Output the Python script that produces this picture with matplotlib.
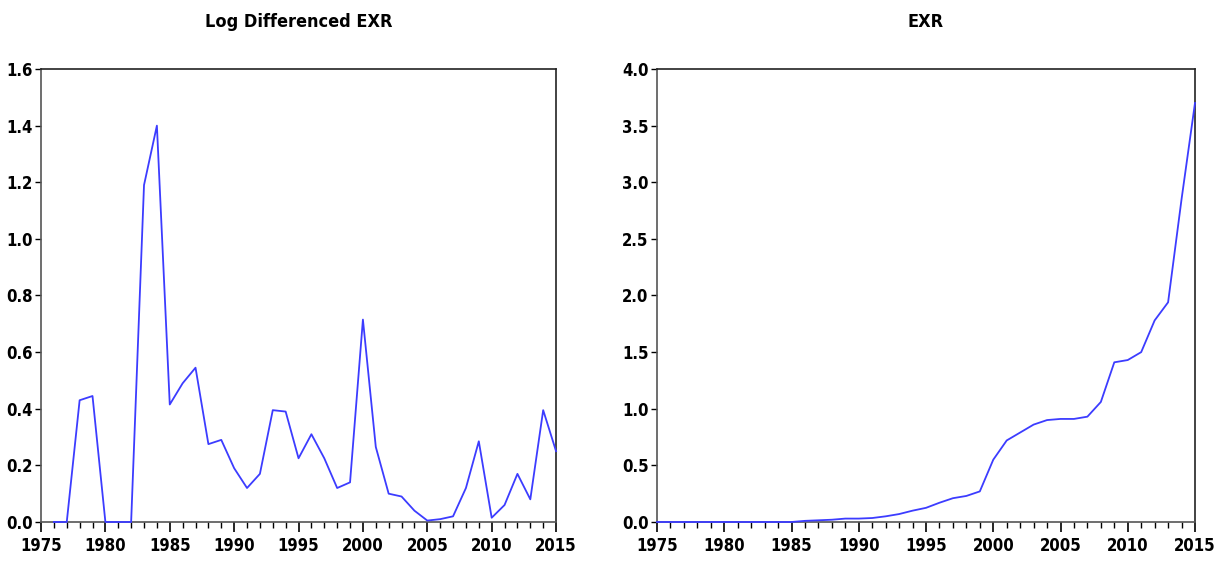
import matplotlib
matplotlib.use("Agg")
import matplotlib.pyplot as plt
from matplotlib.ticker import MultipleLocator, FormatStrFormatter

plt.rcParams['font.family'] = ['DejaVu Sans']
plt.rcParams['font.stretch'] = 'condensed'

# Log differenced EXR, 1976-2015
years_diff = list(range(1976, 2016))
log_diff = [0.0, 0.0, 0.43, 0.445, 0.0, 0.0, 0.0, 1.19, 1.40, 0.415,
            0.49, 0.545, 0.275, 0.29, 0.19, 0.12, 0.17, 0.395, 0.39, 0.225,
            0.31, 0.225, 0.12, 0.14, 0.715, 0.265, 0.10, 0.09, 0.04, 0.005,
            0.01, 0.02, 0.12, 0.285, 0.015, 0.06, 0.17, 0.08, 0.395, 0.25]

# EXR level, 1975-2015
years_exr = list(range(1975, 2016))
exr = [0.0, 0.0, 0.0, 0.0, 0.0, 0.0, 0.0, 0.0, 0.0, 0.0,
       0.0, 0.01, 0.015, 0.02, 0.03, 0.03, 0.035, 0.05, 0.07, 0.10,
       0.125, 0.17, 0.21, 0.23, 0.27, 0.55, 0.72, 0.79, 0.86, 0.90,
       0.91, 0.91, 0.93, 1.06, 1.41, 1.43, 1.50, 1.78, 1.94, 2.85, 3.70]

line_col = '#3c3cff'

fig = plt.figure(figsize=(12.24, 5.62), dpi=100)
ax1 = fig.add_axes([0.0335, 0.0712, 0.4208, 0.806])
ax2 = fig.add_axes([0.5368, 0.0712, 0.4395, 0.806])


def style(ax, ymax, ystep, title):
    ax.set_xlim(1975, 2015)
    ax.set_ylim(0, ymax)
    ax.xaxis.set_major_locator(MultipleLocator(5))
    ax.xaxis.set_minor_locator(MultipleLocator(1))
    ax.yaxis.set_major_locator(MultipleLocator(ystep))
    ax.yaxis.set_major_formatter(FormatStrFormatter('%.1f'))
    ax.tick_params(axis='x', which='major', direction='out', length=7, width=1.2,
                   labelsize=12, pad=4)
    ax.tick_params(axis='x', which='minor', direction='out', length=4, width=1)
    ax.tick_params(axis='y', direction='out', length=4, width=1, labelsize=12, pad=2)
    for lab in ax.get_xticklabels() + ax.get_yticklabels():
        lab.set_fontweight('bold')
    for side in ['left', 'bottom']:
        ax.spines[side].set_color('#555555')
        ax.spines[side].set_linewidth(1.2)
    for side in ['top', 'right']:
        ax.spines[side].set_color('#222222')
        ax.spines[side].set_linewidth(1.2)
    ax.set_title(title, fontsize=13, fontweight='bold', pad=30)


ax1.plot(years_diff, log_diff, color=line_col, lw=1.3, clip_on=False, zorder=3)
style(ax1, 1.6, 0.2, 'Log Differenced EXR')

ax2.plot(years_exr, exr, color=line_col, lw=1.3, clip_on=False, zorder=3)
style(ax2, 4.0, 0.5, 'EXR')

fig.savefig('out.png', dpi=100)
